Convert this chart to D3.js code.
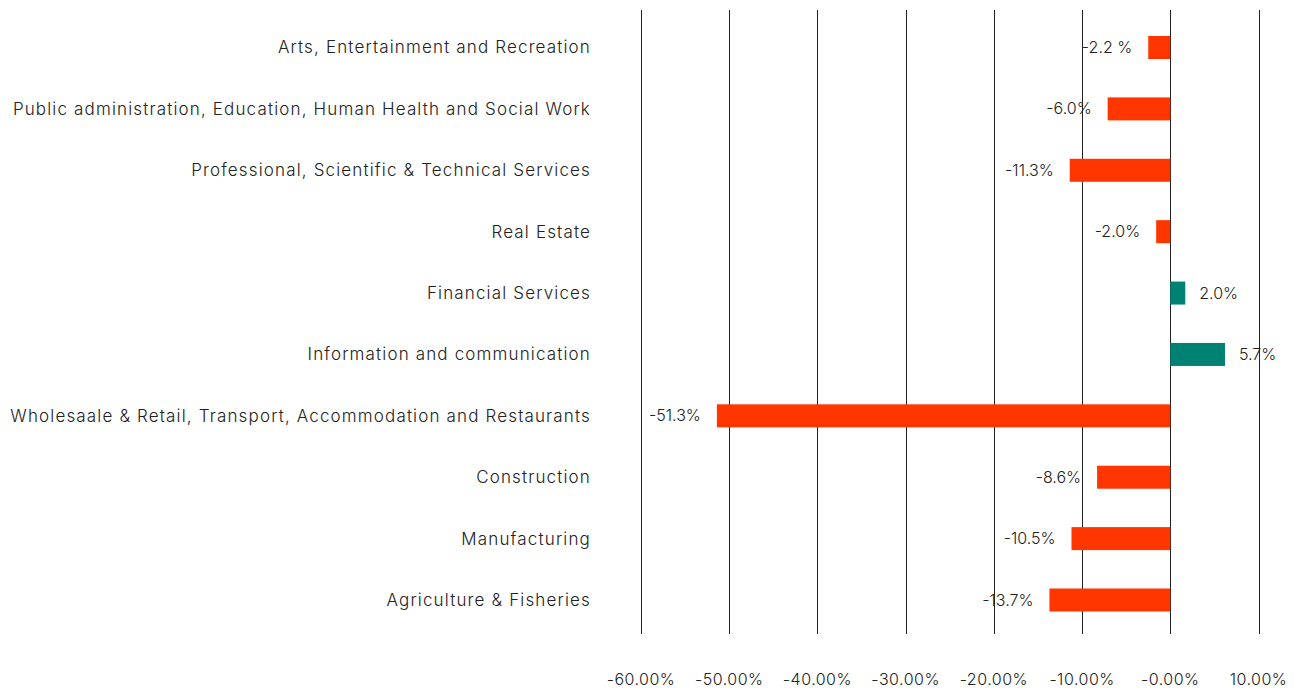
<!DOCTYPE html>
<html>
<head>
<meta charset="utf-8">
<style>
body { margin: 0; background: #fff; }
svg text { font-family: Inter, "Open Sans", sans-serif; font-weight: 300; fill: #222; }
.grid line { stroke: #222; stroke-width: 1; shape-rendering: crispEdges; }
</style>
<script src="https://d3js.org/d3.v7.min.js"></script>
</head>
<body>
<div id="chart"></div>
<script>

	var categories = [
		'Arts, Entertainment and Recreation',
		'Public administration, Education, Human Health and Social Work',
		'Professional, Scientific & Technical Services',
		'Real Estate',
		'Financial Services',
		'Information and communication',
		'Wholesaale & Retail, Transport, Accommodation and Restaurants',
		'Construction',
		'Manufacturing',
		'Agriculture & Fisheries'
	];
	// bar lengths as drawn (percent)
	var values = [-2.5, -7.1, -11.4, -1.6, 1.7, 6.2, -51.4, -8.3, -11.2, -13.7];
	// data labels as printed
	var labels = ['-2.2 %', '-6.0%', '-11.3%', '-2.0%', '2.0%', '5.7%', '-51.3%', '-8.6%', '-10.5%', '-13.7%'];
	var tickValues = [-60, -50, -40, -30, -20, -10, 0, 10];
	var tickLabels = ['-60.00%', '-50.00%', '-40.00%', '-30.00%', '-20.00%', '-10.00%', '-0.00%', '10.00%'];

	var width = 1301, height = 690;

	var x = d3.scaleLinear()
		.domain([-60, 10])
		.range([641, 1258.5]);

	var y = d3.scalePoint()
		.domain(categories)
		.range([47.5, 600]);

	var barHeight = 23;

	var svg = d3.select('#chart').append('svg')
		.attr('width', width)
		.attr('height', height);

	// vertical gridlines
	svg.append('g')
		.attr('class', 'grid')
		.selectAll('line')
		.data(tickValues)
		.enter().append('line')
			.attr('x1', function(d) { return Math.round(x(d)) + 0.5; })
			.attr('x2', function(d) { return Math.round(x(d)) + 0.5; })
			.attr('y1', 10)
			.attr('y2', 634);

	// tick labels
	svg.append('g')
		.selectAll('text')
		.data(tickValues)
		.enter().append('text')
			.attr('x', function(d) { return x(d); })
			.attr('y', 685)
			.attr('text-anchor', 'middle')
			.style('font-size', '16px')
			.style('letter-spacing', '0.5px')
			.text(function(d, i) { return tickLabels[i]; });

	// bars
	svg.append('g')
		.selectAll('rect')
		.data(values)
		.enter().append('rect')
			.attr('x', function(d) { return Math.min(x(0), x(d)); })
			.attr('y', function(d, i) { return y(categories[i]) - barHeight / 2; })
			.attr('width', function(d) { return Math.abs(x(d) - x(0)); })
			.attr('height', barHeight)
			.attr('fill', function(d) { return d < 0 ? '#ff3600' : '#008272'; });

	// category labels
	svg.append('g')
		.selectAll('text')
		.data(categories)
		.enter().append('text')
			.attr('x', 591)
			.attr('y', function(d) { return y(d); })
			.attr('dy', '0.35em')
			.attr('text-anchor', 'end')
			.style('font-size', '17px')
			.style('letter-spacing', '1.15px')
			.text(function(d) { return d; });

	// data labels
	svg.append('g')
		.selectAll('text')
		.data(values)
		.enter().append('text')
			.attr('x', function(d) { return d < 0 ? x(d) - 16 : x(d) + 14; })
			.attr('y', function(d, i) { return y(categories[i]); })
			.attr('dy', '0.35em')
			.attr('text-anchor', function(d) { return d < 0 ? 'end' : 'start'; })
			.style('font-size', '16px')
			.text(function(d, i) { return labels[i]; });

</script>
</body>
</html>
